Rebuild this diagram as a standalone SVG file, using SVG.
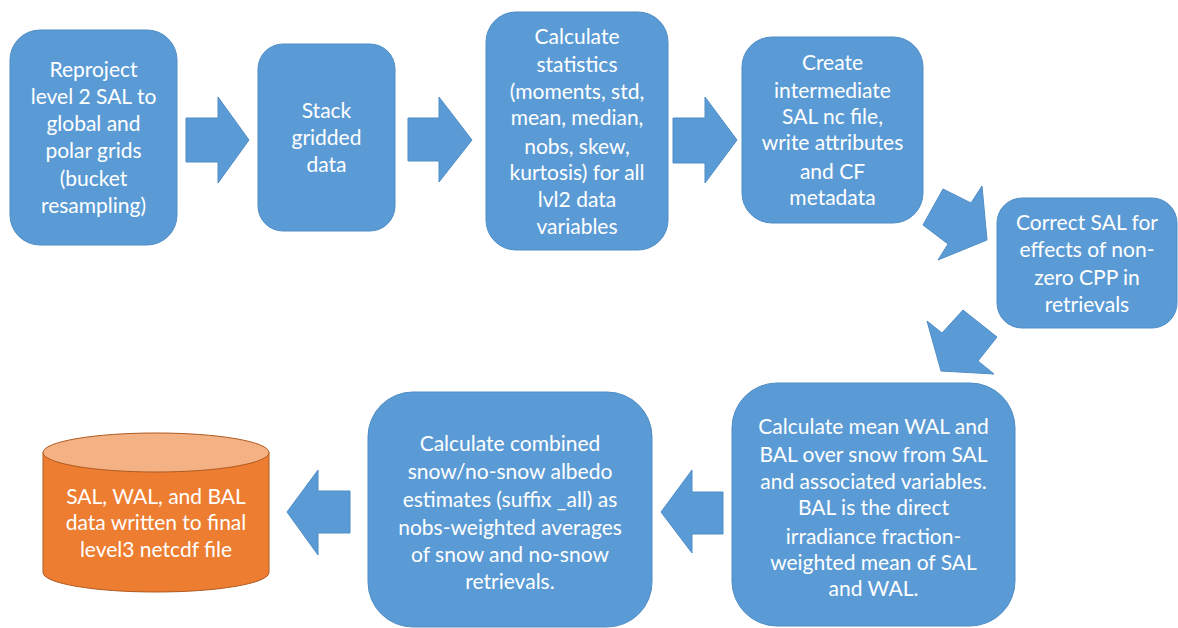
<svg xmlns="http://www.w3.org/2000/svg" width="1178" height="628" viewBox="0 0 1178 628">
<style>
.box{fill:#5B9BD5;stroke:#4F8DC6;stroke-width:1}
.arr{fill:#5B9BD5;stroke:#4F8DC6;stroke-width:1;stroke-linejoin:miter}
.t{font-family:Lato,"Open Sans","Liberation Sans",sans-serif;font-size:21px;fill:#FFFFFF;text-anchor:middle}
</style>
<rect width="1178" height="628" fill="#FFFFFF"/>
<g id="connectors">
<polygon class="arr" points="186,118 218,118 218,97 249,140 218,183 218,162 186,162"/>
<polygon class="arr" points="408,118 439,118 439,97 472,140 439,182 439,161 408,161"/>
<polygon class="arr" points="673,118 705,118 705,97 737,140 705,183 705,163 673,163"/>
<polygon class="arr" points="923,225 943,189 971,203 982,186 987,240 938,260 948,244"/>
<polygon class="arr" points="963,310 997,337 978,361 994,374 941,371 927,321 942,333"/>
<polygon class="arr" points="723,492 692,492 692,470 661,512 692,553 692,534 723,534"/>
<polygon class="arr" points="350,491 318,491 318,470 287,512 318,555 318,533 350,533"/>
</g>
<g id="n1">
<rect class="box" x="10" y="30" width="167" height="215" rx="30"/>
<text class="t" x="93.5" y="77">Reproject</text>
<text class="t" x="93.5" y="104">level 2 SAL to</text>
<text class="t" x="93.5" y="131">global and</text>
<text class="t" x="93.5" y="158">polar grids</text>
<text class="t" x="93.5" y="186">(bucket</text>
<text class="t" x="93.5" y="213">resampling)</text>
</g>
<g id="n2">
<rect class="box" x="258" y="44" width="137" height="187" rx="25"/>
<text class="t" x="326.5" y="118">Stack</text>
<text class="t" x="326.5" y="145">gridded</text>
<text class="t" x="326.5" y="172">data</text>
</g>
<g id="n3">
<rect class="box" x="486" y="12" width="182" height="238" rx="30"/>
<text class="t" x="577" y="44">Calculate</text>
<text class="t" x="577" y="72">statistics</text>
<text class="t" x="577" y="99">(moments, std,</text>
<text class="t" x="577" y="125">mean, median,</text>
<text class="t" x="577" y="154">nobs, skew,</text>
<text class="t" x="577" y="180">kurtosis) for all</text>
<text class="t" x="577" y="207">lvl2 data</text>
<text class="t" x="577" y="234">variables</text>
</g>
<g id="n4">
<rect class="box" x="742" y="37" width="181" height="186" rx="30"/>
<text class="t" x="832.5" y="70">Create</text>
<text class="t" x="832.5" y="98">intermediate</text>
<text class="t" x="832.5" y="124">SAL nc file,</text>
<text class="t" x="832.5" y="150">write attributes</text>
<text class="t" x="832.5" y="179">and CF</text>
<text class="t" x="832.5" y="205">metadata</text>
</g>
<g id="n5">
<rect class="box" x="997" y="198" width="180" height="130" rx="25"/>
<text class="t" x="1087" y="230">Correct SAL for</text>
<text class="t" x="1087" y="257">effects of non-</text>
<text class="t" x="1087" y="285">zero CPP in</text>
<text class="t" x="1087" y="312">retrievals</text>
</g>
<g id="n6">
<rect class="box" x="732" y="383" width="283" height="243" rx="45"/>
<text class="t" x="873.5" y="434">Calculate mean WAL and</text>
<text class="t" x="873.5" y="462">BAL over snow from SAL</text>
<text class="t" x="873.5" y="489">and associated variables.</text>
<text class="t" x="873.5" y="515">BAL is the direct</text>
<text class="t" x="873.5" y="544">irradiance fraction-</text>
<text class="t" x="873.5" y="570">weighted mean of SAL</text>
<text class="t" x="873.5" y="596">and WAL.</text>
</g>
<g id="n7">
<rect class="box" x="368" y="392" width="284" height="235" rx="45"/>
<text class="t" x="510" y="451">Calculate combined</text>
<text class="t" x="510" y="479">snow/no-snow albedo</text>
<text class="t" x="510" y="507">estimates (suffix _all) as</text>
<text class="t" x="510" y="535">nobs-weighted averages</text>
<text class="t" x="510" y="562">of snow and no-snow</text>
<text class="t" x="510" y="589">retrievals.</text>
</g>
<g id="n8">
<path d="M43,452.5 L43,572.5 A113,19.5 0 0 0 269,572.5 L269,452.5 Z" fill="#ED7D31" stroke="#AE5A21" stroke-width="1"/>
<ellipse cx="156" cy="452.5" rx="113" ry="19.5" fill="#F4B183" stroke="#AE5A21" stroke-width="1"/>
<text class="t" x="156" y="504">SAL, WAL, and BAL</text>
<text class="t" x="156" y="530">data written to final</text>
<text class="t" x="156" y="557">level3 netcdf file</text>
</g>
</svg>
